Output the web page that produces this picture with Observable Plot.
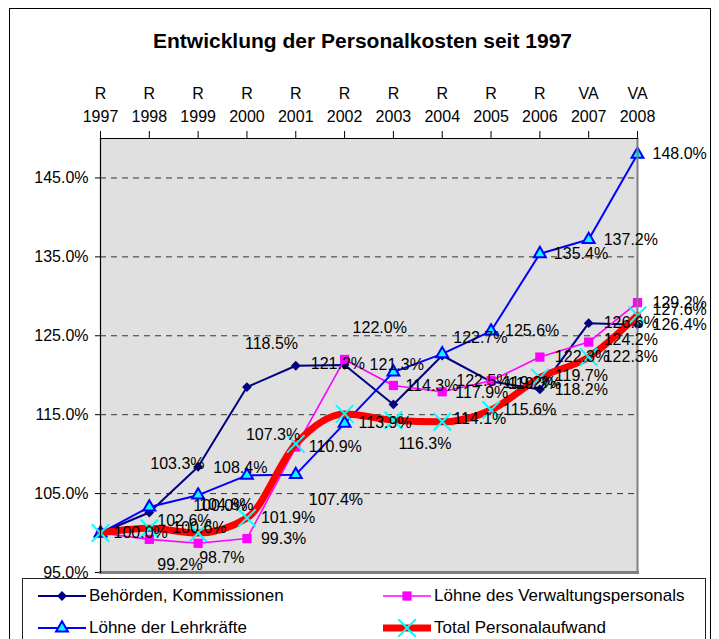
<!DOCTYPE html>
<html>
<head>
<meta charset="utf-8">
<script src="https://cdn.jsdelivr.net/npm/d3@7"></script>
<script src="https://cdn.jsdelivr.net/npm/@observablehq/plot@0.6"></script>
<style>
  body { margin: 0; background: #fff; }
  #wrap { position: relative; width: 719px; height: 639px; overflow: hidden; background: #fff;
          font-family: "Liberation Sans", Arial, sans-serif; }
  #border { position: absolute; left: 9px; top: 8px; width: 702px; height: 700px; border: 1px solid #000; box-sizing: border-box; }
  #title { position: absolute; left: 0; top: 29px; width: 725px; text-align: center; font-weight: bold; font-size: 21px; color: #000; }
  #chart { position: absolute; left: 0; top: 0; }
  #legend { position: absolute; left: 22px; top: 578px; width: 684px; height: 120px; border: 1px solid #222; box-sizing: border-box; background: #fff; }
  .item { position: absolute; display: flex; align-items: center; font-size: 17px; color: #000; height: 24px; }
  .item svg { margin-right: 3px; }
</style>
</head>
<body>
<div id="wrap">
  <div id="border"></div>
  <div id="title">Entwicklung der Personalkosten seit 1997</div>
  <div id="chart"></div>
  <div id="legend"></div>
</div>
<script>
// ---- data ----
const years = [1997, 1998, 1999, 2000, 2001, 2002, 2003, 2004, 2005, 2006, 2007, 2008];
const status = ["R", "R", "R", "R", "R", "R", "R", "R", "R", "R", "VA", "VA"];
const yTicks = [95, 105, 115, 125, 135, 145];

const behoerden   = [100.0, 102.6, 108.4, 118.5, 121.2, 121.3, 116.3, 122.5, 119.2, 118.2, 126.6, 126.4];
const verwaltung  = [100.0,  99.2,  98.7,  99.3, 110.9, 122.0, 118.7, 117.9, 119.3, 122.3, 124.2, 129.2];
const lehrkraefte = [100.0, 103.3, 104.8, 107.3, 107.4, 113.9, 120.4, 122.7, 125.6, 135.4, 137.2, 148.0];
const total       = [100.0, 100.6, 100.0, 101.9, 111.3, 115.1, 114.3, 114.1, 115.6, 119.7, 122.3, 127.6];

// label nudges [dx, dy] per point (null = no label shown)
const behoerdenNudge  = [[13,0],[8,8],[15,1],[-2,-43],[15,-2],[25,0],[5,39],[14,25],[12,1],[15,0],[15,0],[15,0]];
const verwaltungNudge = [null,[8,26],[1,15],[14,0],[13,0],[8,-32],null,[13,1],[17,3],[15,0],[15,-2],[15,0]];
const lehrNudge       = [null,[1,-43],[1,10],[-1,-41],[13,25],[14,0],null,[11,-16],[14,0],[14,0],[15,0],[15,0]];
const totalNudge      = [null,[23,0],[-5,-27],[14,0],null,null,[12,-34],[11,-3],[12,0],[15,-2],[15,0],[15,-5]];

const series = [
  {name: "Behörden, Kommissionen", values: behoerden, nudge: behoerdenNudge},
  {name: "Löhne des Verwaltungspersonals", values: verwaltung, nudge: verwaltungNudge},
  {name: "Löhne der Lehrkräfte", values: lehrkraefte, nudge: lehrNudge},
  {name: "Total Personalaufwand", values: total, nudge: totalNudge}
];

const rows = s => years.map((year, i) => ({year, value: s.values[i], nudge: s.nudge[i]}));
const statusByYear = new Map(years.map((y, i) => [y, status[i]]));

const styleOf = {
  "Behörden, Kommissionen": {line: {stroke: "#000080", strokeWidth: 2}, dot: {symbol: "diamond2", r: 4.4, fill: "#000080", stroke: "none"}},
  "Löhne des Verwaltungspersonals": {line: {stroke: "#ff00ff", strokeWidth: 1.6}, dot: {symbol: "square", r: 5.2, fill: "#ff00ff", stroke: "none"}},
  "Löhne der Lehrkräfte": {line: {stroke: "#0000ff", strokeWidth: 2}, dot: {symbol: "triangle", r: 4.4, fill: "#00ffff", stroke: "#0000ff", strokeWidth: 2}},
  "Total Personalaufwand": {line: {stroke: "#ff0000", strokeWidth: 7, curve: "monotone-x"}, dot: {symbol: "times", r: 8, fill: "none", stroke: "#00ffff", strokeWidth: 2}}
};

const marks = [
  Plot.frame({fill: "#e0e0e0", stroke: "none"}),
  Plot.gridY({ticks: yTicks.filter(t => t > 95), stroke: "#333", strokeOpacity: 1, strokeDasharray: "6,5"}),
  Plot.axisY({ticks: yTicks, tickFormat: d => d.toFixed(1) + "%", tickSize: 5, tickPadding: 7, fontSize: 16, label: null}),
  Plot.axisX({anchor: "top", ticks: years, tickFormat: d => statusByYear.get(d) + "\n" + d, tickSize: 8, tickPadding: 9, fontSize: 16, lineHeight: 1.38, label: null}),
];

for (const s of series) {
  const st = styleOf[s.name];
  const data = rows(s);
  marks.push(Plot.line(data, {x: "year", y: "value", ...st.line}));
  marks.push(Plot.dot(data, {x: "year", y: "value", ...st.dot}));
}
// frame border: grey right/bottom, black left/top
marks.push(Plot.frame({anchor: "right", stroke: "#808080", strokeWidth: 2}));
marks.push(Plot.frame({anchor: "bottom", stroke: "#808080", strokeWidth: 3}));
marks.push(Plot.frame({anchor: "left", stroke: "#000", strokeWidth: 1.2}));
marks.push(Plot.frame({anchor: "top", stroke: "#000", strokeWidth: 1.2}));

for (const s of series) {
  for (const d of rows(s)) {
    if (!d.nudge) continue;
    marks.push(Plot.text([d], {
      x: "year", y: "value", text: d => d.value.toFixed(1) + "%",
      dx: d.nudge[0], dy: d.nudge[1], textAnchor: "start", lineAnchor: "middle", fill: "#000", fontSize: 16
    }));
  }
}

const chart = Plot.plot({
  width: 719,
  height: 581,
  marginLeft: 100,
  marginRight: 82,
  marginTop: 138,
  marginBottom: 9,
  style: {fontFamily: "'Liberation Sans', Arial, sans-serif", fontSize: "16px", color: "#000", background: "transparent", overflow: "visible"},
  x: {type: "linear", domain: [1997, 2008], label: null},
  y: {domain: [95, 150], label: null},
  marks
});
document.getElementById("chart").appendChild(chart);

// ---- legend ----
const legend = document.getElementById("legend");
const legendPos = [
  {left: 15, top: 5}, {left: 360, top: 5}, {left: 15, top: 37}, {left: 360, top: 37}
];
function swatch(name) {
  const st = styleOf[name];
  const w = 48, h = 20, cx = 24, cy = 10;
  const ns = "http://www.w3.org/2000/svg";
  const svg = document.createElementNS(ns, "svg");
  svg.setAttribute("width", w); svg.setAttribute("height", h);
  const line = document.createElementNS(ns, "line");
  line.setAttribute("x1", 0); line.setAttribute("x2", w); line.setAttribute("y1", cy); line.setAttribute("y2", cy);
  line.setAttribute("stroke", st.line.stroke); line.setAttribute("stroke-width", st.line.strokeWidth);
  if (st.line.strokeWidth > 4) line.setAttribute("stroke-linecap", "round");
  svg.appendChild(line);
  const symMap = {diamond2: d3.symbolDiamond2, square: d3.symbolSquare, triangle: d3.symbolTriangle, times: d3.symbolTimes};
  const p = document.createElementNS(ns, "path");
  p.setAttribute("d", d3.symbol(symMap[st.dot.symbol], Math.PI * st.dot.r * st.dot.r)());
  p.setAttribute("transform", `translate(${cx},${cy})`);
  p.setAttribute("fill", st.dot.fill); p.setAttribute("stroke", st.dot.stroke || "none");
  if (st.dot.strokeWidth) p.setAttribute("stroke-width", st.dot.strokeWidth);
  svg.appendChild(p);
  return svg;
}
series.forEach((s, i) => {
  const div = document.createElement("div");
  div.className = "item";
  div.style.left = legendPos[i].left + "px";
  div.style.top = legendPos[i].top + "px";
  div.appendChild(swatch(s.name));
  const span = document.createElement("span");
  span.textContent = s.name;
  div.appendChild(span);
  legend.appendChild(div);
});
</script>
</body>
</html>
